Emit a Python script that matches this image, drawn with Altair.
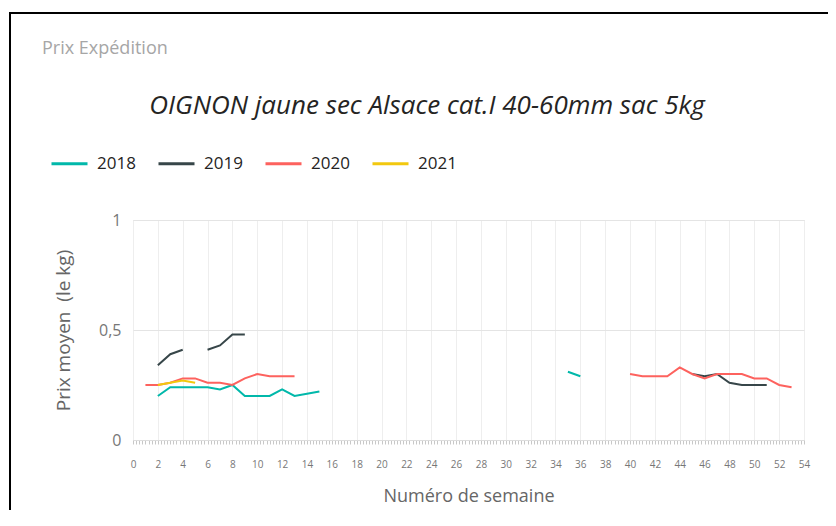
import altair as alt
import pandas as pd

# ---- data ----
years = ["2018", "2019", "2020", "2021"]
colors = ["#01B8AA", "#374649", "#FD625E", "#F2C80F"]

weeks_2018 = [2, 3, 4, 5, 6, 7, 8, 9, 10, 11, 12, 13, 14, 15, 16, 35, 36]
price_2018 = [0.20, 0.24, 0.24, 0.24, 0.24, 0.23, 0.25, 0.20, 0.20, 0.20, 0.23, 0.20, 0.21, 0.22, None, 0.31, 0.29]

weeks_2019 = [2, 3, 4, 5, 6, 7, 8, 9, 10, 45, 46, 47, 48, 49, 50, 51]
price_2019 = [0.34, 0.39, 0.41, None, 0.41, 0.43, 0.48, 0.48, None, 0.30, 0.29, 0.30, 0.26, 0.25, 0.25, 0.25]

weeks_2020 = [1, 2, 3, 4, 5, 6, 7, 8, 9, 10, 11, 12, 13, 14,
              40, 41, 42, 43, 44, 45, 46, 47, 48, 49, 50, 51, 52, 53]
price_2020 = [0.25, 0.25, 0.26, 0.28, 0.28, 0.26, 0.26, 0.25, 0.28, 0.30, 0.29, 0.29, 0.29, None,
              0.30, 0.29, 0.29, 0.29, 0.33, 0.30, 0.28, 0.30, 0.30, 0.30, 0.28, 0.28, 0.25, 0.24]

weeks_2021 = [2, 3, 4, 5]
price_2021 = [0.25, 0.26, 0.27, 0.26]

x_tick_values = [i * 0.25 for i in range(0, 54 * 4 + 1)]
y_tick_values = [0, 0.5, 1]

header_text = "Prix Expédition"
title_text = "OIGNON jaune sec Alsace cat.I 40-60mm sac 5kg"
y_title = "Prix moyen\u00a0 (le kg)"
x_title = "Numéro de semaine"

rows = []
for yr, ws, vs in zip(years, [weeks_2018, weeks_2019, weeks_2020, weeks_2021],
                      [price_2018, price_2019, price_2020, price_2021]):
    for w, v in zip(ws, vs):
        rows.append({"annee": yr, "semaine": w, "prix": v})
df = pd.DataFrame(rows)

FONT = "Open Sans"
W, H = 671, 220

lines = alt.Chart(df).mark_line(strokeWidth=2, invalid="break-paths-filter-domains").encode(
    x=alt.X(
        "semaine:Q",
        scale=alt.Scale(domain=[0, 54], nice=False, zero=False),
        axis=alt.Axis(
            title=x_title,
            titleFont=FONT, titleFontSize=18, titleFontWeight="normal", titleColor="#666666",
            titlePadding=18,
            values=x_tick_values,
            labelExpr="datum.value % 2 === 0 ? format(datum.value, 'd') : ''",
            labelOverlap=False, labelFlush=False,
            labelFont=FONT, labelFontSize=10, labelColor="#777777", labelPadding=15,
            tickSize=4, tickColor="#c8c8c8", domainColor="#dddddd",
            gridColor="#eeeeee",
            gridOpacity={"condition": {"test": "datum.value % 2 === 0", "value": 1}, "value": 0},
        ),
    ),
    y=alt.Y(
        "prix:Q",
        scale=alt.Scale(domain=[0, 1], nice=False),
        axis=alt.Axis(
            title=y_title,
            titleFont=FONT, titleFontSize=19, titleFontWeight="normal", titleColor="#666666",
            titlePadding=25,
            values=y_tick_values,
            labelExpr="replace(format(datum.value, '.1~f'), '.', ',')",
            labelFont=FONT, labelFontSize=16, labelColor="#777777", labelPadding=12,
            ticks=False, domain=False, gridColor="#e4e4e4",
        ),
    ),
    color=alt.Color(
        "annee:N",
        scale=alt.Scale(domain=years, range=colors),
        legend=alt.Legend(
            title=None, orient="none", direction="horizontal",
            legendX=-83, legendY=-76,
            symbolType="stroke", symbolSize=1296, symbolStrokeWidth=3,
            labelFont=FONT, labelFontSize=17, labelColor="#252423",
            labelOffset=8, columnPadding=16,
        ),
    ),
)

header = alt.Chart(pd.DataFrame({"t": [header_text]})).mark_text(
    align="left", baseline="alphabetic", font=FONT, fontSize=18, color="#a6a6a6"
).encode(x=alt.value(-91), y=alt.value(-166), text="t:N")

main_title = alt.Chart(pd.DataFrame({"t": [title_text]})).mark_text(
    align="center", baseline="alphabetic", font=FONT, fontSize=26, fontStyle="italic",
    color="#252423"
).encode(x=alt.value(294), y=alt.value(-106), text="t:N")

border = alt.Chart(pd.DataFrame({"b": [0]}))
border_left = border.mark_rule(color="#000000", strokeWidth=2).encode(
    x=alt.value(-123), y=alt.value(-207), y2=alt.value(300)
)
border_top = border.mark_rule(color="#000000", strokeWidth=2).encode(
    x=alt.value(-124), x2=alt.value(700), y=alt.value(-207)
)

chart = alt.layer(lines, header, main_title, border_left, border_top).properties(
    width=W, height=H,
    autosize=alt.AutoSizeParams(type="none"),
    padding={"left": 125, "top": 212, "right": 24, "bottom": 70},
).configure_view(stroke=None).configure(background="white")

chart.save("out.html", embed_options={"renderer": "svg", "actions": False})
